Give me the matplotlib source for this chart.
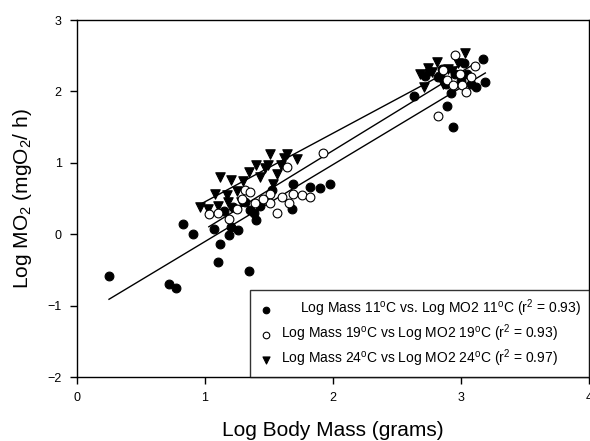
import matplotlib
matplotlib.use("Agg")
import matplotlib.pyplot as plt
import numpy as np

plt.rcParams['font.family'] = ['Liberation Sans', 'DejaVu Sans']
plt.rcParams['mathtext.fontset'] = 'custom'
plt.rcParams['mathtext.rm'] = 'Liberation Sans'
plt.rcParams['mathtext.it'] = 'Liberation Sans:italic'

# 11 C, filled circles
x11 = [0.25, 0.72, 0.77, 0.83, 0.91, 1.07, 1.12, 1.10, 1.19, 1.20, 1.26, 1.34, 1.40,
       1.15, 1.22, 1.31, 1.38, 1.43, 1.35, 1.52, 1.68, 1.69, 1.82, 1.90, 1.98,
       2.63, 2.89, 2.94, 3.17, 3.19, 3.12, 2.75, 2.82, 2.88, 2.95, 3.00, 3.05,
       3.08, 2.85, 3.02, 2.72, 2.92]
y11 = [-0.58, -0.70, -0.75, 0.14, 0.00, 0.07, -0.13, -0.39, -0.01, 0.10, 0.06, -0.52, 0.20,
       0.33, 0.38, 0.45, 0.30, 0.40, 0.34, 0.62, 0.35, 0.71, 0.66, 0.65, 0.71,
       1.94, 1.80, 1.50, 2.46, 2.13, 2.06, 2.28, 2.20, 2.10, 2.25, 2.15, 2.25,
       2.10, 2.32, 2.40, 2.22, 1.98]

# 19 C, open circles
x19 = [1.03, 1.19, 1.25, 1.29, 1.31, 1.35, 1.39, 1.51, 1.60, 1.69, 1.76, 1.82,
       1.51, 1.66, 1.56, 1.64, 1.92, 1.45, 1.10,
       2.82, 2.95, 3.11, 2.89, 2.94, 3.01, 3.04, 2.99, 3.08, 2.86]
y19 = [0.29, 0.22, 0.35, 0.49, 0.62, 0.59, 0.44, 0.57, 0.52, 0.57, 0.55, 0.52,
       0.44, 0.44, 0.30, 0.94, 1.14, 0.50, 0.30,
       1.65, 2.51, 2.35, 2.16, 2.09, 2.09, 1.99, 2.25, 2.20, 2.30]

# 24 C, filled triangles
x24 = [0.96, 1.02, 1.08, 1.12, 1.20, 1.17, 1.34, 1.40, 1.51, 1.64, 1.72, 1.49,
       1.59, 1.43, 1.56, 1.53, 1.25, 1.10, 1.18, 1.30, 1.62, 1.47, 1.28,
       2.68, 2.71, 2.77, 2.86, 3.03, 2.81, 2.90, 2.84, 2.93, 2.74, 2.98]
y24 = [0.38, 0.36, 0.57, 0.80, 0.76, 0.55, 0.87, 0.97, 1.12, 1.12, 1.06, 0.97,
       0.97, 0.80, 0.85, 0.71, 0.60, 0.40, 0.45, 0.75, 1.07, 0.93, 0.45,
       2.25, 2.06, 2.27, 2.11, 2.54, 2.41, 2.32, 2.20, 2.28, 2.33, 2.40]

# regression lines: (slope, intercept)
fit11 = (1.078, -1.18)
fit19 = (1.10, -1.028)
fit24 = (0.96, -0.505)

labels = [
    r'     Log Mass 11$^{\mathrm{o}}$C vs. Log MO2 11$^{\mathrm{o}}$C (r$^{2}$ = 0.93)',
    r'Log Mass 19$^{\mathrm{o}}$C vs Log MO2 19$^{\mathrm{o}}$C (r$^{2}$ = 0.93)',
    r'Log Mass 24$^{\mathrm{o}}$C vs Log MO2 24$^{\mathrm{o}}$C (r$^{2}$ = 0.97)',
]

fig = plt.figure(figsize=(5.9, 4.41), dpi=100)
ax = fig.add_axes([0.1305, 0.145, 0.8678, 0.8095])

for xs, (m, b) in [(x11, fit11), (x19, fit19), (x24, fit24)]:
    xl = np.array([min(xs), max(xs)])
    ax.plot(xl, m * xl + b, color='black', lw=1.0, zorder=1)

ax.scatter(x11, y11, s=40, marker='o', facecolor='black', edgecolor='black',
           linewidths=0.8, label=labels[0], zorder=2)
ax.scatter(x19, y19, s=40, marker='o', facecolor='white', edgecolor='black',
           linewidths=0.8, label=labels[1], zorder=3)
ax.scatter(x24, y24, s=46, marker='v', facecolor='black', edgecolor='black',
           linewidths=0.8, label=labels[2], zorder=2)

ax.set_xlim(0, 4)
ax.set_ylim(-2, 3)
ax.set_xticks([0, 1, 2, 3, 4])
ax.set_yticks([-2, -1, 0, 1, 2, 3])
ax.tick_params(direction='out', length=5, width=1, labelsize=9, pad=6)
for s in ax.spines.values():
    s.set_linewidth(1.0)

ax.set_xlabel('Log Body Mass (grams)', fontsize=15, labelpad=12)
ax.set_ylabel(r'Log MO$_{2}$ (mgO$_{2}$/ h)', fontsize=15, labelpad=10)

leg = ax.legend(loc='lower right', bbox_to_anchor=(1.0, 0.0), borderaxespad=0,
                fontsize=10, frameon=True, fancybox=False, edgecolor='black',
                handletextpad=0.5, labelspacing=0.25, borderpad=0.55,
                handlelength=1.2, scatterpoints=1, markerscale=0.75)
leg.get_frame().set_linewidth(1.0)

fig.savefig('out.png', dpi=100)
